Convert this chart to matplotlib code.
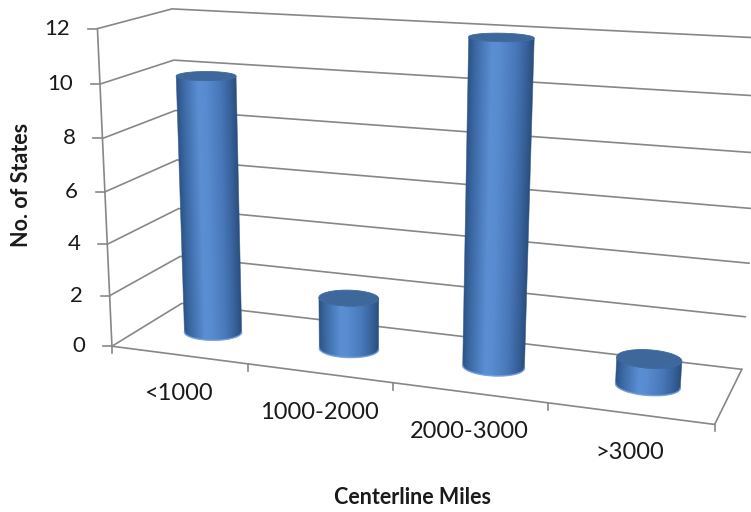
import numpy as np
import matplotlib
matplotlib.use("Agg")
import matplotlib.pyplot as plt
from matplotlib.colors import LinearSegmentedColormap
from matplotlib.patches import Polygon

# ---- data -------------------------------------------------------------
categories = ["<1000", "1000-2000", "2000-3000", ">3000"]
states = [10, 2, 12, 1]
value_ticks = [0, 2, 4, 6, 8, 10, 12]
x_title = "Centerline Miles"
y_title = "No. of States"

# ---- 3-D frame: anchor points (category, value, depth) -> canvas pixels --
BOX_ANCHORS = [
    ((0, 0, 0), (113, 346)),
    ((1, 0, 0), (248, 364)),
    ((3, 0, 0), (549, 404)),
    ((4, 0, 0), (714, 425)),
    ((0, 12, 0), (97, 29)),
    ((0, 10, 0), (99, 84)),
    ((0, 2, 0), (110, 294)),
    ((0, 12, 1), (173, 9)),
    ((0, 10, 1), (174, 60)),
    ((0, 0, 1), (180.5, 304.6)),
    ((4, 0, 1), (742, 368)),
]
SCALE = 100.0


def fit_camera(anchors):
    rows = []
    for (X, Y, Z), (u, v) in anchors:
        u, v = u / SCALE, v / SCALE
        P = [X, Y, Z, 1.0]
        rows.append(P + [0, 0, 0, 0] + [-u * p for p in P])
        rows.append([0, 0, 0, 0] + P + [-v * p for p in P])
    _, _, vt = np.linalg.svd(np.array(rows, float))
    return vt[-1].reshape(3, 4)


CAM = fit_camera(BOX_ANCHORS)
_, _, _vt = np.linalg.svd(CAM)
_c = _vt[-1]
CAM_CENTER = _c[:3] / _c[3]


def project(pts):
    pts = np.atleast_2d(np.asarray(pts, float))
    h = np.hstack([pts, np.ones((len(pts), 1))]) @ CAM.T
    return h[:, :2] / h[:, 2:3] * SCALE


# ---- styling ----------------------------------------------------------
GRID = "#878787"
TEXT = "#1a1a1a"
plt.rcParams["font.family"] = ["Lato", "DejaVu Sans"]

side_cmap = LinearSegmentedColormap.from_list(
    "cyl",
    [(0.0, "#2d5487"), (0.1, "#3b68a3"), (0.36, "#5b8fd4"),
     (0.48, "#588bcf"), (0.72, "#4878ba"), (0.9, "#365f97"), (1.0, "#2b4d7a")],
)
TOP_COLOR = "#3e689b"
RIM_COLOR = "#78a6e2"

W, H = 751, 512
fig = plt.figure(figsize=(W / 100, H / 100), dpi=100)
ax = fig.add_axes([0, 0, 1, 1])
ax.axis("off")

n_cat = len(categories)
y_max = value_ticks[-1]

# wall gridlines (side wall + back wall)
for v in value_ticks:
    p = project([(0, v, 0), (0, v, 1), (n_cat, v, 1)])
    ax.plot(p[:, 0], p[:, 1], color=GRID, lw=1.2, solid_capstyle="round")

# floor outline and value axis
p = project([(0, 0, 0), (n_cat, 0, 0), (n_cat, 0, 1)])
ax.plot(p[:, 0], p[:, 1], color=GRID, lw=1.2)
p = project([(0, 0, 0), (0, y_max, 0)])
ax.plot(p[:, 0], p[:, 1], color=GRID, lw=1.2)

# value ticks and labels
for v in value_ticks:
    (x0, y0), = project([(0, v, 0)])
    ax.plot([x0 - 9, x0], [y0, y0], color=GRID, lw=1.2)
    ax.text(x0 - 27, y0, str(v), ha="right", va="center", fontsize=16, color=TEXT)

# category ticks and labels
for i in range(n_cat + 1):
    (x0, y0), = project([(i, 0, 0)])
    ax.plot([x0, x0], [y0, y0 + 7], color=GRID, lw=1.2)
for i, name in enumerate(categories):
    (x0, y0), = project([(i + 0.5, 0, 0)])
    ax.text(x0, y0 + 39, name, ha="center", va="center", fontsize=17, color=TEXT)

# cylinders
RX, RZ = 0.2, 0.17
theta = np.linspace(np.pi / 2, np.pi / 2 + 2 * np.pi, 721)


def ring(cx, cz, h, t):
    xs = cx + RX * np.cos(t)
    zs = cz + RZ * np.sin(t)
    return project(np.column_stack([xs, np.full_like(xs, h), zs]))


def draw_cylinder(cx, cz, h):
    normals = np.column_stack([np.cos(theta) / RX, np.zeros_like(theta),
                               np.sin(theta) / RZ])
    pts = np.column_stack([cx + RX * np.cos(theta), np.full_like(theta, h / 2),
                           cz + RZ * np.sin(theta)])
    vis = np.einsum("ij,ij->i", normals, CAM_CENTER - pts) > 0
    tv = theta[vis]
    bot = ring(cx, cz, 0, tv)
    top = ring(cx, cz, h, tv)
    outline = np.vstack([bot, top[::-1]])

    # shaded side: horizontal gradient between the two silhouette lines
    x0, x1 = np.floor(outline[:, 0].min()) - 1, np.ceil(outline[:, 0].max()) + 1
    y0, y1 = np.floor(outline[:, 1].min()) - 1, np.ceil(outline[:, 1].max()) + 1
    gx = np.arange(x0, x1 + 1, 0.5)
    gy = np.arange(y0, y1 + 1, 0.5)
    GX, GY = np.meshgrid(gx, gy)
    (blx, bly), (tlx, tly) = bot[0], top[0]
    (brx, bry), (trx, try_) = bot[-1], top[-1]
    sl = (GY - tly) / (bly - tly)
    sr = (GY - try_) / (bry - try_)
    xl = tlx + sl * (blx - tlx)
    xr = trx + sr * (brx - trx)
    u = np.clip((GX - xl) / (xr - xl), 0, 1)
    im = ax.imshow(side_cmap(u), extent=(gx[0], gx[-1], gy[-1], gy[0]),
                   origin="upper", interpolation="bilinear", aspect="auto",
                   zorder=3)
    clip = Polygon(outline, closed=True, facecolor="none", edgecolor="none",
                   transform=ax.transData)
    ax.add_patch(clip)
    im.set_clip_path(clip)
    ax.add_patch(Polygon(outline, closed=True, facecolor="none",
                         edgecolor="#2f5688", lw=0.5, alpha=0.7, zorder=3.2))

    # light rim along the visible base
    ax.plot(bot[:, 0], bot[:, 1], color=RIM_COLOR, lw=1.1, alpha=0.8, zorder=3.5)

    # top face
    full_top = ring(cx, cz, h, theta)
    ax.add_patch(Polygon(full_top, closed=True, facecolor=TOP_COLOR,
                         edgecolor=TOP_COLOR, lw=0.6, zorder=4))


for i, val in enumerate(states):
    draw_cylinder(i + 0.5, 0.5, val)

# axis titles
ax.text(22, 185, y_title, rotation=90, ha="center", va="center",
        fontsize=15.5, fontweight="bold", color=TEXT)
ax.text(412, 497, x_title, ha="center", va="center",
        fontsize=15.5, fontweight="bold", color=TEXT)

ax.set_xlim(0, W)
ax.set_ylim(H, 0)
fig.savefig("out.png", dpi=100, facecolor="white")
